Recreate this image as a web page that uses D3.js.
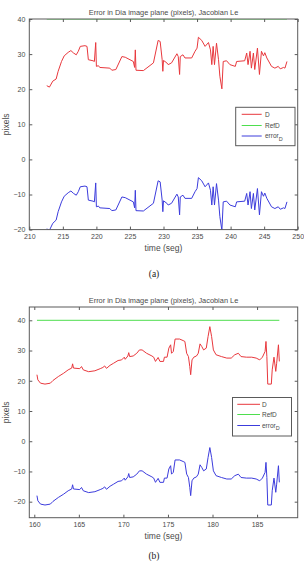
<!DOCTYPE html>
<html><head><meta charset="utf-8">
<script src="https://cdn.jsdelivr.net/npm/d3@7"></script>
<style>body{margin:0;background:#fff}svg{display:block}</style>
</head><body>
<script>
const titleText = "Error in Dia image plane (pixels), Jacobian Le";
const xLabelText = "time (seg)";
const yLabelText = "pixels";
const legendNames = ["D", "RefD", "error"];
const legendSub = "D";
const captions = ["(a)", "(b)"];

// Panel (a)
const timeA = [212.6,213.0,213.5,214.0,214.3,214.8,215.2,215.8,216.2,216.6,
217.0,217.3,217.6,218.3,218.6,218.8,219.5,219.7,219.9,220.0,
220.3,220.5,222.0,222.3,222.9,223.8,224.3,225.3,225.5,225.7,
225.8,225.9,227.0,228.5,229.2,229.5,229.8,229.9,230.0,230.5,
230.7,231.2,232.0,232.2,232.4,232.5,232.9,233.2,234.2,234.7,
235.0,235.2,235.7,236.2,236.7,237.0,237.2,237.4,237.6,237.9,
238.2,238.4,238.7,238.9,239.4,239.9,240.7,240.9,242.1,242.4,
242.6,242.9,243.1,243.4,243.6,244.0,244.3,244.6,244.9,245.1,
245.4,246.1,246.6,247.1,247.4,247.9,248.1,248.4];
const dA = [21.0,20.6,22.3,22.9,25.1,27.9,29.5,30.5,31.0,30.3,
29.8,30.8,32.2,32.4,32.2,28.4,28.1,27.9,33.3,26.5,
26.7,26.2,26.0,25.4,25.6,29.3,29.1,28.1,27.9,26.2,
31.2,25.4,25.3,27.5,33.9,33.6,28.4,25.1,28.2,27.5,
27.0,27.5,30.1,29.3,24.2,29.3,29.8,28.9,28.9,30.8,
31.7,34.8,33.9,32.2,33.3,31.2,27.0,32.2,27.0,33.1,
28.4,23.7,20.1,27.9,28.1,27.0,26.5,27.9,28.1,30.3,
27.0,30.8,26.0,30.3,25.6,31.7,24.2,30.8,29.5,30.4,
28.9,26.5,26.0,26.5,25.8,26.2,26.0,27.9];
const errA = [-19.8,-20.2,-18.2,-17.3,-14.9,-12.1,-10.5,-9.5,-9.0,-9.7,
-10.2,-9.2,-7.8,-7.6,-7.8,-11.6,-11.9,-12.1,-6.7,-13.5,
-13.3,-13.8,-14.0,-14.6,-14.4,-10.7,-10.9,-11.9,-12.1,-13.8,
-8.8,-14.6,-14.7,-12.5,-6.1,-6.4,-11.6,-14.9,-11.8,-12.5,
-13.0,-12.5,-9.9,-10.7,-15.8,-10.7,-10.2,-11.1,-11.1,-9.2,
-8.3,-5.2,-6.1,-7.8,-6.7,-8.8,-13.0,-7.8,-13.0,-6.9,
-11.6,-16.3,-20.2,-12.1,-11.9,-13.0,-13.5,-12.1,-11.9,-9.7,
-13.0,-9.2,-14.0,-9.7,-14.4,-8.3,-15.8,-9.2,-10.5,-9.6,
-11.1,-13.5,-14.0,-13.5,-14.2,-13.8,-14.0,-12.1];
const refTimeA = [212.6, 248.4];
const refA = [40, 40];
const xTicksA = [210,215,220,225,230,235,240,245,250];
const yTicksA = [-20,-10,0,10,20,30,40];

// Panel (b)
const timeB = [160.3,160.4,160.7,161.2,161.8,162.1,162.7,163.3,163.8,164.2,
164.3,164.4,165.1,165.3,165.5,166.1,166.8,167.4,167.7,167.9,
168.1,168.5,168.9,169.4,169.8,170.1,170.2,170.5,170.6,170.7,
171.1,171.5,171.8,172.1,172.6,173.2,173.4,173.6,173.9,174.1,
174.5,174.6,174.9,175.1,175.3,175.4,175.6,175.8,176.3,176.7,
176.9,177.1,177.3,177.45,177.55,177.7,177.9,178.2,178.4,178.6,
178.8,179.0,179.3,179.5,179.7,179.9,180.1,180.4,181.0,181.6,
182.1,182.5,182.9,183.2,183.8,184.4,184.9,185.3,185.6,185.9,
186.0,186.1,186.2,186.6,186.7,186.9,187.1,187.2,187.4,187.5];
const dB = [22.0,20.3,19.2,18.9,19.2,20.1,21.4,22.5,23.6,24.2,
25.6,24.2,24.0,24.7,23.6,23.0,23.3,24.0,24.4,24.9,
24.1,25.1,25.8,26.7,26.9,27.8,27.1,28.2,29.3,28.0,
28.2,29.1,30.2,30.2,29.1,28.2,27.8,26.4,27.7,26.4,
26.4,27.8,27.8,30.8,31.9,29.1,29.7,33.8,33.8,33.3,
33.0,29.1,28.0,24.7,22.0,26.9,27.8,28.2,29.1,32.2,
31.3,30.2,30.8,34.6,37.9,34.6,30.2,28.6,28.0,27.5,
27.5,28.6,29.1,28.0,27.8,27.8,27.5,26.9,27.8,29.7,
33.0,28.0,18.9,18.9,23.6,27.8,23.1,25.8,31.9,26.4];
const errB = [-18.0,-19.7,-20.8,-21.1,-20.8,-19.9,-18.6,-17.5,-16.4,-15.8,
-14.4,-15.8,-16.0,-15.3,-16.4,-17.0,-16.7,-16.0,-15.6,-15.1,
-15.9,-14.9,-14.2,-13.3,-13.1,-12.2,-12.9,-11.8,-10.7,-12.0,
-11.8,-10.9,-9.8,-9.8,-10.9,-11.8,-12.2,-13.6,-12.3,-13.6,
-13.6,-12.2,-12.2,-9.2,-8.1,-10.9,-10.3,-6.2,-6.2,-6.7,
-7.0,-10.9,-12.0,-15.3,-18.0,-13.1,-12.2,-11.8,-10.9,-7.8,
-8.7,-9.8,-9.2,-5.4,-2.1,-5.4,-9.8,-11.4,-12.0,-12.5,
-12.5,-11.4,-10.9,-12.0,-12.2,-12.2,-12.5,-13.1,-12.2,-10.3,
-7.0,-12.0,-21.1,-21.1,-16.4,-12.2,-16.9,-14.2,-8.1,-13.6];
const refTimeB = [160.3, 187.5];
const refB = [40, 40];
const xTicksB = [160,165,170,175,180,185];
const yTicksB = [-20,-10,0,10,20,30,40];

const colD = "#e8383d", colRef = "#4ede4e", colErr = "#3c3cdc";
const axisCol = "#5a5a5a", textCol = "#4a4a4a";
const font = "'Liberation Sans', Arial, sans-serif";

const svg = d3.select("body").append("svg").attr("width", 304).attr("height", 561);

function panel(id, cfg) {
  const x = d3.scaleLinear().domain(cfg.xDom).range([29.3, 297.7]);
  const y = d3.scaleLinear().domain(cfg.yDom).range([cfg.bottom, cfg.top]);
  const g = svg.append("g");
  g.append("clipPath").attr("id", "clip" + id).append("rect")
    .attr("x", x.range()[0]).attr("y", cfg.top)
    .attr("width", x.range()[1] - x.range()[0]).attr("height", cfg.bottom - cfg.top);
  const plot = g.append("g").attr("clip-path", `url(#clip${id})`);
  const line = d3.line().x(d => x(d[0])).y(d => y(d[1]));
  const series = [
    {t: cfg.time, v: cfg.d, c: colD},
    {t: cfg.refTime, v: cfg.ref, c: colRef},
    {t: cfg.time, v: cfg.err, c: colErr}
  ];
  series.forEach(s => {
    plot.append("path").datum(d3.zip(s.t, s.v))
      .attr("d", line).attr("fill", "none").attr("stroke", s.c)
      .attr("stroke-width", 1).attr("stroke-linejoin", "round");
  });
  g.append("rect").attr("x", x.range()[0]).attr("y", cfg.top)
    .attr("width", x.range()[1] - x.range()[0]).attr("height", cfg.bottom - cfg.top)
    .attr("fill", "none").attr("stroke", axisCol).attr("stroke-width", 1);

  const styleAxis = sel => {
    sel.select(".domain").remove();
    sel.selectAll(".tick line").attr("stroke", axisCol);
    sel.selectAll(".tick text").attr("fill", textCol).attr("font-size", 7).attr("font-family", font);
  };
  g.append("g").attr("transform", `translate(0,${cfg.bottom})`)
    .call(d3.axisBottom(x).tickValues(cfg.xTicks).tickSize(-3).tickPadding(4).tickFormat(d3.format("d")))
    .call(styleAxis);
  g.append("g").attr("transform", `translate(0,${cfg.top})`)
    .call(d3.axisTop(x).tickValues(cfg.xTicks).tickSize(-3).tickFormat(""))
    .call(styleAxis);
  g.append("g").attr("transform", `translate(${x.range()[0]},0)`)
    .call(d3.axisLeft(y).tickValues(cfg.yTicks).tickSize(-3).tickPadding(4).tickFormat(d3.format("d")))
    .call(styleAxis);
  g.append("g").attr("transform", `translate(${x.range()[1]},0)`)
    .call(d3.axisRight(y).tickValues(cfg.yTicks).tickSize(-3).tickFormat(""))
    .call(styleAxis);

  const cx = (x.range()[0] + x.range()[1]) / 2;
  g.append("text").attr("x", cx).attr("y", cfg.top - 4).attr("text-anchor", "middle")
    .attr("font-size", 7.4).attr("font-family", font).attr("fill", textCol).text(titleText);
  g.append("text").attr("x", cx).attr("y", cfg.bottom + 21.5).attr("text-anchor", "middle")
    .attr("font-size", 8.5).attr("font-family", font).attr("fill", textCol).text(xLabelText);
  g.append("text").attr("transform", `translate(9,${(cfg.top + cfg.bottom) / 2}) rotate(-90)`)
    .attr("text-anchor", "middle").attr("font-size", 8.5).attr("font-family", font)
    .attr("fill", textCol).text(yLabelText);
  g.append("text").attr("x", 154).attr("y", cfg.capY).attr("text-anchor", "middle")
    .attr("font-size", 9.5).attr("font-family", "'Liberation Serif', 'Times New Roman', serif")
    .attr("fill", "#222").text(cfg.caption);

  const L = cfg.legend;
  const lg = g.append("g");
  lg.append("rect").attr("x", L.x0).attr("y", L.y0).attr("width", L.x1 - L.x0).attr("height", L.y1 - L.y0)
    .attr("fill", "#fff").attr("stroke", axisCol).attr("stroke-width", 1);
  const cols = [colD, colRef, colErr];
  legendNames.forEach((n, i) => {
    const yy = L.rows[i];
    lg.append("line").attr("x1", L.lx0).attr("x2", L.lx1).attr("y1", yy).attr("y2", yy)
      .attr("stroke", cols[i]).attr("stroke-width", 1);
    const t = lg.append("text").attr("x", L.tx).attr("y", yy).attr("dy", "0.35em")
      .attr("font-size", 6.5).attr("font-family", font).attr("fill", textCol).text(n);
    if (i === 2) t.append("tspan").attr("dy", "2.5").attr("font-size", 5.5).text(legendSub);
  });
}

panel("a", {
  xDom: [210, 250], yDom: [-20, 40], top: 19, bottom: 229.6,
  time: timeA, d: dA, err: errA, refTime: refTimeA, ref: refA,
  xTicks: xTicksA, yTicks: yTicksA, caption: captions[0], capY: 276.5,
  legend: {x0: 235.7, x1: 295, y0: 107.3, y1: 145.7, rows: [114.3, 125.5, 136], lx0: 241.7, lx1: 261.7, tx: 265}
});
panel("b", {
  xDom: [159.44, 189.56], yDom: [-25.3, 44.4], top: 307, bottom: 517.7,
  time: timeB, d: dB, err: errB, refTime: refTimeB, ref: refB,
  xTicks: xTicksB, yTicks: yTicksB, caption: captions[1], capY: 559,
  legend: {x0: 232.5, x1: 291.5, y0: 397.5, y1: 436, rows: [404.3, 414.5, 425.5], lx0: 237.3, lx1: 260, tx: 262}
});
</script>
</body></html>
